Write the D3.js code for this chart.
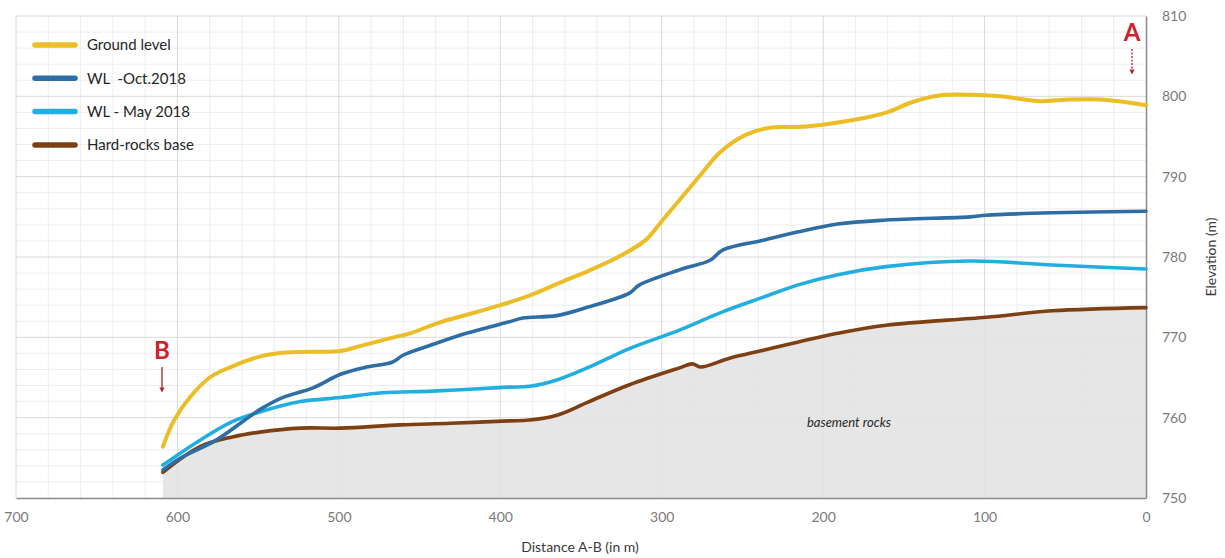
<!DOCTYPE html>
<html>
<head>
<meta charset="utf-8">
<script src="https://cdn.jsdelivr.net/npm/d3@7"></script>
<style>
  html, body { margin: 0; padding: 0; background: #fff; }
  svg { display: block; font-family: Lato, "Open Sans", sans-serif; }
  .legend-label { white-space: pre; }
</style>
</head>
<body>
<svg id="chart" width="1225" height="558"></svg>
<script>
// Cross-section A-B: distance from A (m) vs elevation (m)
const groundDist = [609, 602, 592, 580, 567, 549, 533, 518, 499, 487, 468, 456, 437, 419, 400, 382, 363, 344, 326, 310, 301, 289, 276, 264, 248, 233, 214, 196, 177, 159, 146, 128, 109, 90, 66, 47, 28, 0];
const groundElev = [756.4, 759.7, 762.6, 765.0, 766.3, 767.6, 768.1, 768.2, 768.3, 768.9, 769.9, 770.5, 771.9, 772.9, 774.0, 775.2, 776.8, 778.4, 780.1, 782.1, 784.2, 787.1, 790.2, 793.0, 795.2, 796.1, 796.2, 796.6, 797.2, 798.1, 799.2, 800.1, 800.2, 800.0, 799.4, 799.6, 799.6, 798.9];

const octDist = [609, 597, 576, 549, 535, 516, 499, 483, 467, 460, 442, 421, 395, 386, 365, 345, 320, 314, 289, 270, 262, 237, 216, 191, 161, 109, 99, 58, 0];
const octElev = [753.5, 755.1, 757.2, 761.0, 762.5, 763.7, 765.4, 766.3, 766.9, 767.8, 769.1, 770.5, 771.9, 772.4, 772.7, 773.8, 775.5, 776.5, 778.4, 779.6, 780.9, 782.1, 783.1, 784.1, 784.6, 785.0, 785.2, 785.5, 785.7];

const mayDist = [609, 586, 566, 549, 524, 499, 473, 442, 395, 382, 365, 345, 320, 289, 262, 237, 216, 191, 161, 109, 58, 0];
const mayElev = [754.1, 757.2, 759.5, 760.7, 762.0, 762.5, 763.1, 763.3, 763.8, 763.9, 764.7, 766.3, 768.6, 770.9, 773.2, 775.0, 776.5, 777.8, 778.8, 779.5, 779.0, 778.5];

const rockDist = [609, 586, 566, 549, 524, 499, 462, 431, 395, 382, 365, 345, 320, 289, 281, 276, 258, 237, 216, 191, 161, 99, 58, 0];
const rockElev = [753.2, 756.4, 757.6, 758.2, 758.7, 758.7, 759.1, 759.3, 759.6, 759.7, 760.3, 762.0, 764.1, 766.2, 766.7, 766.3, 767.4, 768.4, 769.4, 770.5, 771.5, 772.5, 773.3, 773.7];

const seriesNames = ["Ground level", "WL  -Oct.2018", "WL - May 2018", "Hard-rocks base"];
const seriesColors = ["#EBBD27", "#2F6DA5", "#22AEE0", "#7E3F13"];

const xTicks = [700, 600, 500, 400, 300, 200, 100, 0];
const yTicks = [750, 760, 770, 780, 790, 800, 810];

const svg = d3.select("#chart");
const plot = { left: 16, right: 1146, top: 16, bottom: 498 };

// distance decreases to the right (A at the right edge)
const x = d3.scaleLinear().domain([700, 0]).range([plot.left, plot.right]);
const y = d3.scaleLinear().domain([750, 810]).range([plot.bottom, plot.top]);

// grid: minor every 20 m / 2 m, major every 100 m / 10 m
const grid = svg.append("g");
grid.selectAll("line.vminor").data(d3.range(0, 701, 20).filter(d => d % 100 !== 0))
  .join("line").attr("x1", d => x(d)).attr("x2", d => x(d))
  .attr("y1", plot.top).attr("y2", plot.bottom)
  .attr("stroke", "#eeeeee").attr("stroke-width", 1);
grid.selectAll("line.hminor").data(d3.range(750, 811, 2).filter(d => d % 10 !== 0))
  .join("line").attr("x1", plot.left).attr("x2", plot.right)
  .attr("y1", d => y(d)).attr("y2", d => y(d))
  .attr("stroke", "#eeeeee").attr("stroke-width", 1);
grid.selectAll("line.vmajor").data(xTicks.filter(d => d !== 0))
  .join("line").attr("x1", d => x(d)).attr("x2", d => x(d))
  .attr("y1", plot.top).attr("y2", plot.bottom)
  .attr("stroke", "#d9d9d9").attr("stroke-width", 1);
grid.selectAll("line.hmajor").data(yTicks.filter(d => d !== 750))
  .join("line").attr("x1", plot.left).attr("x2", plot.right)
  .attr("y1", d => y(d)).attr("y2", d => y(d))
  .attr("stroke", "#d9d9d9").attr("stroke-width", 1);

// basement area under the hard-rocks base
const rockPts = rockDist.map((d, i) => [d, rockElev[i]]);
const area = d3.area()
  .x(p => x(p[0])).y0(y(750)).y1(p => y(p[1]))
  .curve(d3.curveCatmullRom.alpha(0.5));
svg.append("path").attr("d", area(rockPts))
  .attr("fill", "#e2e2e2").attr("fill-opacity", 0.88);

svg.append("text").attr("x", x(184)).attr("y", y(758.9))
  .attr("text-anchor", "middle").attr("font-size", 13).attr("font-style", "italic")
  .attr("fill", "#262626").text("basement rocks");

// axes
const xAxis = d3.axisBottom(x).tickValues(xTicks).tickSize(0).tickPadding(14);
const gx = svg.append("g").attr("transform", `translate(0,${plot.bottom})`).call(xAxis);
gx.select(".domain").attr("stroke", "#8a8a8a").attr("stroke-width", 1.5);
gx.selectAll("text").attr("font-size", 14).attr("fill", "#7a7a7a").attr("font-family", "Lato");

const yAxis = d3.axisRight(y).tickValues(yTicks).tickSize(0).tickPadding(16);
const gy = svg.append("g").attr("transform", `translate(${plot.right},0)`).call(yAxis);
gy.select(".domain").attr("stroke", "#8a8a8a").attr("stroke-width", 1.5);
gy.selectAll("text").attr("font-size", 14).attr("fill", "#7a7a7a").attr("font-family", "Lato");

svg.append("text").attr("x", 580).attr("y", 552).attr("text-anchor", "middle")
  .attr("font-size", 14).attr("fill", "#3a3a3a").text("Distance A-B (in m)");
svg.append("text").attr("transform", `translate(1216,257) rotate(-90)`)
  .attr("text-anchor", "middle").attr("font-size", 14).attr("fill", "#3a3a3a")
  .text("Elevation (m)");

// profile lines
const line = d3.line().x(p => x(p[0])).y(p => y(p[1])).curve(d3.curveCatmullRom.alpha(0.5));
const series = [
  [groundDist, groundElev],
  [octDist, octElev],
  [mayDist, mayElev],
  [rockDist, rockElev]
];
const drawOrder = [3, 2, 1, 0];
drawOrder.forEach(i => {
  const [ds, vs] = series[i];
  svg.append("path").attr("d", line(ds.map((d, k) => [d, vs[k]])))
    .attr("fill", "none").attr("stroke", seriesColors[i])
    .attr("stroke-width", i === 0 ? 4 : 3.6).attr("stroke-linejoin", "round")
    .attr("stroke-linecap", "round");
});

// legend
const legend = svg.append("g");
seriesNames.forEach((name, i) => {
  const ly = 45 + i * 33.3;
  legend.append("line").attr("x1", 35).attr("x2", 75).attr("y1", ly).attr("y2", ly)
    .attr("stroke", seriesColors[i]).attr("stroke-width", 5.5).attr("stroke-linecap", "round");
  legend.append("text").attr("class", "legend-label")
    .attr("x", 87).attr("y", ly).attr("dy", "0.35em")
    .attr("font-size", 15).attr("fill", "#262626").text(name);
});

// section end markers
svg.append("defs").append("marker").attr("id", "arrowhead")
  .attr("viewBox", "0 0 10 10").attr("refX", 5).attr("refY", 5)
  .attr("markerWidth", 4).attr("markerHeight", 4).attr("orient", "auto")
  .append("path").attr("d", "M0,0 L10,5 L0,10 Z").attr("fill", "#c0202a");

function endMarker(label, cx, ty, y1, y2, dashed) {
  svg.append("text").attr("x", cx).attr("y", ty).attr("text-anchor", "middle")
    .attr("font-size", 24).attr("font-weight", "bold").attr("fill", "#d0212b")
    .text(label);
  svg.append("line").attr("x1", cx).attr("x2", cx).attr("y1", y1).attr("y2", y2)
    .attr("stroke", "#b0202a").attr("stroke-width", 1.3)
    .attr("stroke-dasharray", dashed ? "2,1.5" : null)
    .attr("marker-end", "url(#arrowhead)");
}
endMarker("A", 1132, 41, 49, 72, true);
endMarker("B", 162, 359, 367, 390, false);
</script>
</body>
</html>
